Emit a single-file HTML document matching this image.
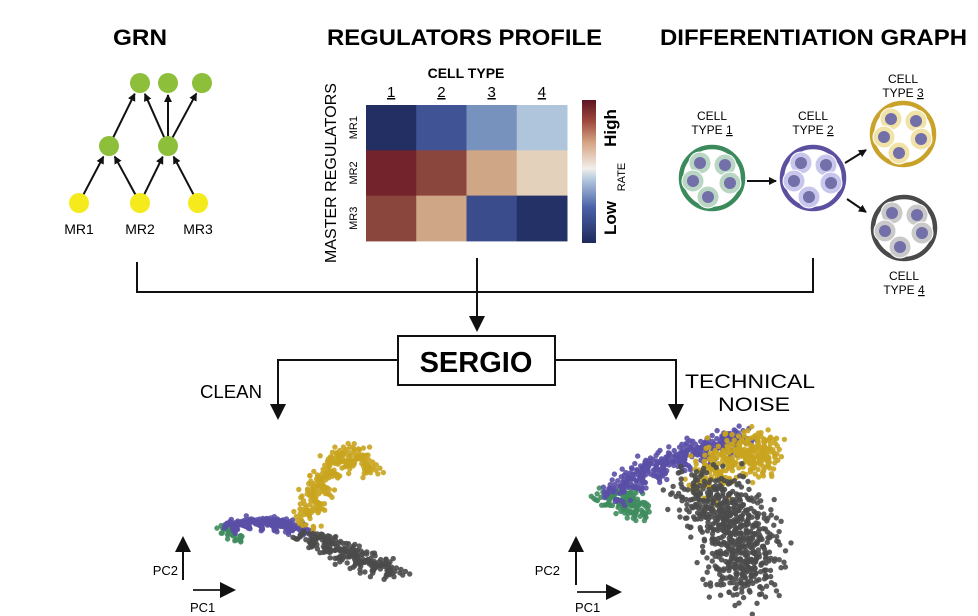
<!DOCTYPE html>
<html><head><meta charset="utf-8"><style>
html,body{margin:0;padding:0;background:#fff;overflow:hidden;}
svg{display:block;font-family:"Liberation Sans",Arial,sans-serif;}
</style></head><body>
<svg id="fig" width="978" height="616" viewBox="0 0 978 616">
<defs>
<marker id="ah" markerWidth="8" markerHeight="8" refX="7" refY="4" orient="auto" markerUnits="userSpaceOnUse"><path d="M0,0 L8,4 L0,8 Z" fill="#111"/></marker>
<marker id="ahb" markerWidth="16" markerHeight="16" refX="14" refY="8" orient="auto" markerUnits="userSpaceOnUse"><path d="M0,0 L16,8 L0,16 Z" fill="#111"/></marker>
<linearGradient id="cbar" x1="0" y1="1" x2="0" y2="0">
<stop offset="0" stop-color="#1f2a5c"/><stop offset="0.25" stop-color="#4a62a8"/><stop offset="0.45" stop-color="#b7cbe0"/><stop offset="0.52" stop-color="#f2eeea"/><stop offset="0.7" stop-color="#d6a585"/><stop offset="0.85" stop-color="#a04a3e"/><stop offset="1" stop-color="#5e1522"/>
</linearGradient>
<clipPath id="frame"><rect x="0" y="0" width="978" height="616"/></clipPath>
</defs>
<text x="113" y="45" textLength="54" lengthAdjust="spacingAndGlyphs" font-size="22" font-weight="bold">GRN</text>
<text x="327" y="45" textLength="275" lengthAdjust="spacingAndGlyphs" font-size="22" font-weight="bold">REGULATORS PROFILE</text>
<text x="660" y="45" textLength="307" lengthAdjust="spacingAndGlyphs" font-size="22" font-weight="bold">DIFFERENTIATION GRAPH</text>
<g id="grn"></g>
<g id="heat"></g>
<g id="diff"></g>
<g stroke="#111" stroke-width="2" fill="none">
<polyline points="137,262 137,292 813,292 813,258"/>
<line x1="477" y1="258" x2="477" y2="330" marker-end="url(#ahb)"/>
<polyline points="398,360 278,360 278,418" marker-end="url(#ahb)"/>
<polyline points="555,360 676,360 676,418" marker-end="url(#ahb)"/>
</g>
<rect x="398" y="336" width="157" height="49" fill="#fff" stroke="#111" stroke-width="2"/>
<text x="476" y="372" text-anchor="middle" font-size="29" font-weight="bold">SERGIO</text>
<text x="200" y="398" textLength="62" lengthAdjust="spacingAndGlyphs" font-size="18">CLEAN</text>
<text x="685" y="388" textLength="130" lengthAdjust="spacingAndGlyphs" font-size="19">TECHNICAL</text>
<text x="718" y="411" textLength="72" lengthAdjust="spacingAndGlyphs" font-size="19">NOISE</text>
<g clip-path="url(#frame)">
<g id="sc1"></g>
<g id="sc2"></g>
</g>
<g>
<line x1="183" y1="580" x2="183" y2="538" stroke="#111" stroke-width="2" marker-end="url(#ahb)"/>
<line x1="193" y1="590" x2="234" y2="590" stroke="#333" stroke-width="2" marker-end="url(#ahb)"/>
<text x="178" y="575" text-anchor="end" font-size="13">PC2</text>
<text x="190" y="612" font-size="13">PC1</text>
</g>
<g>
<line x1="576" y1="585" x2="576" y2="538" stroke="#111" stroke-width="2" marker-end="url(#ahb)"/>
<line x1="577" y1="592" x2="620" y2="592" stroke="#333" stroke-width="2" marker-end="url(#ahb)"/>
<text x="560" y="575" text-anchor="end" font-size="13">PC2</text>
<text x="575" y="612" font-size="13">PC1</text>
</g>
</svg>
<script>
var NS="http://www.w3.org/2000/svg";
function mk(p,t,a){var e=document.createElementNS(NS,t);for(var k in a)e.setAttribute(k,a[k]);p.appendChild(e);return e;}

// GRN
var grnNodes=[[140,83,'g'],[168,83,'g'],[202,83,'g'],[109,146,'g'],[168,146,'g'],[79,203,'y'],[140,203,'y'],[198,203,'y']];
var grnEdges=[[3,0],[4,0],[4,1],[4,2],[5,3],[6,3],[6,4],[7,4]];
var mrLabels=['MR1','MR2','MR3'];
var g=document.getElementById('grn');
grnEdges.forEach(function(e){var a=grnNodes[e[0]],b=grnNodes[e[1]];var dx=b[0]-a[0],dy=b[1]-a[1],L=Math.hypot(dx,dy);
var l=mk(g,'line',{x1:a[0]+dx/L*9,y1:a[1]+dy/L*9,x2:b[0]-dx/L*12,y2:b[1]-dy/L*12,stroke:'#111','stroke-width':2,'marker-end':'url(#ah)'});

});
grnNodes.forEach(function(n){var c=mk(g,'circle',{cx:n[0],cy:n[1],r:10,fill:n[2]=='g'?'#8dbf3a':'#f5ea1c'});

});
mrLabels.forEach(function(s,i){var t=mk(g,'text',{x:grnNodes[5+i][0],y:234,'text-anchor':'middle','font-size':14});t.textContent=s;

});

// Heatmap
var cellTypes=['1','2','3','4'];
var regulators=['MR1','MR2','MR3'];
var rateValues=[[0.02,0.18,0.35,0.45],[0.98,0.85,0.68,0.57],[0.85,0.68,0.15,0.03]];
function rateColor(v){var st=[[0,[31,42,92]],[0.22,[70,92,162]],[0.35,[120,146,190]],[0.45,[175,197,220]],[0.55,[232,216,198]],[0.7,[204,160,124]],[0.85,[138,70,60]],[1,[110,30,40]]];
for(var i=1;i<st.length;i++){if(v<=st[i][0]){var a=st[i-1],b=st[i],t=(v-a[0])/(b[0]-a[0]);return 'rgb('+a[1].map(function(c,j){return Math.round(c+(b[1][j]-c)*t)}).join(',')+')';}}return 'rgb(110,30,40)';}
var h=document.getElementById('heat');
var hx0=366,hy0=105,cw=50.25,ch=45.3;
rateValues.forEach(function(row,r){row.forEach(function(v,c){var re=mk(h,'rect',{x:hx0+c*cw,y:hy0+r*ch,width:cw+0.5,height:ch+0.5,fill:rateColor(v)});

});
var t=mk(h,'text',{transform:'translate(357,'+(hy0+r*ch+ch/2)+') rotate(-90)','text-anchor':'middle','font-size':11});t.textContent=regulators[r];

});
cellTypes.forEach(function(s,c){var t=mk(h,'text',{x:hx0+c*cw+cw/2,y:97,'text-anchor':'middle','font-size':15,'text-decoration':'underline'});t.textContent=s;

});
var t=mk(h,'text',{x:466,y:78,'text-anchor':'middle','font-size':14,'font-weight':'bold'});t.textContent='CELL TYPE';


t=mk(h,'text',{transform:'translate(336,173) rotate(-90)','text-anchor':'middle','font-size':16});t.textContent='MASTER REGULATORS';


var cb=mk(h,'rect',{x:582,y:100,width:14,height:143,fill:'url(#cbar)'});


[['High','translate(616,128) rotate(-90)',17,'bold'],['RATE','translate(625,177) rotate(-90)',11,'normal'],['Low','translate(616,218) rotate(-90)',17,'bold']].forEach(function(a){var t=mk(h,'text',{transform:a[1],'text-anchor':'middle','font-size':a[2],'font-weight':a[3]});t.textContent=a[0];

});

// Differentiation graph
var d=document.getElementById('diff');
var popNames=['1','2','3','4'];
var popCenters=[[712,178],[813,178],[903,134],[904,228]];
var popRing=['#3a8a5c','#5b4fa0','#c9a22a','#4a4a4a'];
var popCell=['#b9d6c4','#c8c6ec','#f1e3a8','#c9c9c9'];
var labelPos=[[712,120],[813,120],[903,83],[904,280]];
var cellOffs=[[-12,-15],[13,-13],[-19,3],[18,5],[-4,19]];
popCenters.forEach(function(p,i){var gg=mk(d,'g',{});


mk(gg,'circle',{cx:p[0],cy:p[1],r:31,fill:'#fff',stroke:popRing[i],'stroke-width':4.5});
cellOffs.forEach(function(o){mk(gg,'circle',{cx:p[0]+o[0],cy:p[1]+o[1],r:11,fill:popCell[i],stroke:'#fff','stroke-width':1});mk(gg,'circle',{cx:p[0]+o[0],cy:p[1]+o[1],r:6,fill:'#736fa8'});});
var lp=labelPos[i];
var t1=mk(gg,'text',{x:lp[0],y:lp[1],'text-anchor':'middle','font-size':12});t1.textContent='CELL';
var t2=mk(gg,'text',{x:lp[0],y:lp[1]+14,'text-anchor':'middle','font-size':12});
t2.appendChild(document.createTextNode('TYPE '));var u=mk(t2,'tspan',{'text-decoration':'underline'});u.textContent=popNames[i];});
[[747,181,776,181],[845,163,866,150],[847,199,866,212]].forEach(function(a){var l=mk(d,'line',{x1:a[0],y1:a[1],x2:a[2],y2:a[3],stroke:'#111','stroke-width':2,'marker-end':'url(#ah)'});

});

// Scatter data: anchor paths of each cell-type cloud in PC space, with spread and counts
var clusterColors=['#3f8c5e','#5a4fa6','#c9a41e','#4b4b4b'];
var cleanPaths=[[[222,528],[232,533],[242,540]],[[228,526],[260,523],[290,526],[308,532]],[[306,520],[316,495],[328,472],[345,455],[362,460],[372,470]],[[306,536],[330,545],[360,560],[395,572]]];
var cleanSpreadX=[3,4,7,9];
var cleanSpreadY=[3,3.5,7,5];
var cleanCounts=[40,200,260,230];
var noisyPaths=[[[605,497],[622,500],[640,505],[632,515]],[[612,494],[650,470],[690,455],[745,438]],[[705,488],[720,460],[745,448],[768,448],[752,470]],[[700,488],[725,510],[742,535],[745,560],[742,585]]];
var noisySpreadX=[8,8,11,20];
var noisySpreadY=[6,7,10,15];
var noisyCounts=[130,380,300,650];
function drawScatter(id,paths,sxs,sys,counts,r){
var grp=document.getElementById(id);
paths.forEach(function(path,ci){var n=counts[ci];var segs=[],tot=0;
for(var i=1;i<path.length;i++){var L=Math.hypot(path[i][0]-path[i-1][0],path[i][1]-path[i-1][1]);segs.push(L);tot+=L;}
for(var k=0;k<n;k++){var u=((k*0.6180339887)%1)*tot,acc=0,s=0;while(s<segs.length-1&&acc+segs[s]<u){acc+=segs[s];s++;}
var t=segs[s]?(u-acc)/segs[s]:0;var a=path[s],b=path[s+1]||a;
var q1=(k*0.7548776662+0.3)%1,q2=(k*0.5698402910+0.7)%1;var rad=Math.sqrt(-2*Math.log(1-q1*0.97));var ang=q2*2*Math.PI;
var px=a[0]+(b[0]-a[0])*t+rad*sxs[ci]*Math.cos(ang),py=a[1]+(b[1]-a[1])*t+rad*sys[ci]*Math.sin(ang);
var c=mk(grp,'circle',{cx:px.toFixed(1),cy:py.toFixed(1),r:r,fill:clusterColors[ci],'fill-opacity':0.9});

}});}
drawScatter('sc1',cleanPaths,cleanSpreadX,cleanSpreadY,cleanCounts,2.7);
drawScatter('sc2',noisyPaths,noisySpreadX,noisySpreadY,noisyCounts,2.7);
</script>
</body></html>
